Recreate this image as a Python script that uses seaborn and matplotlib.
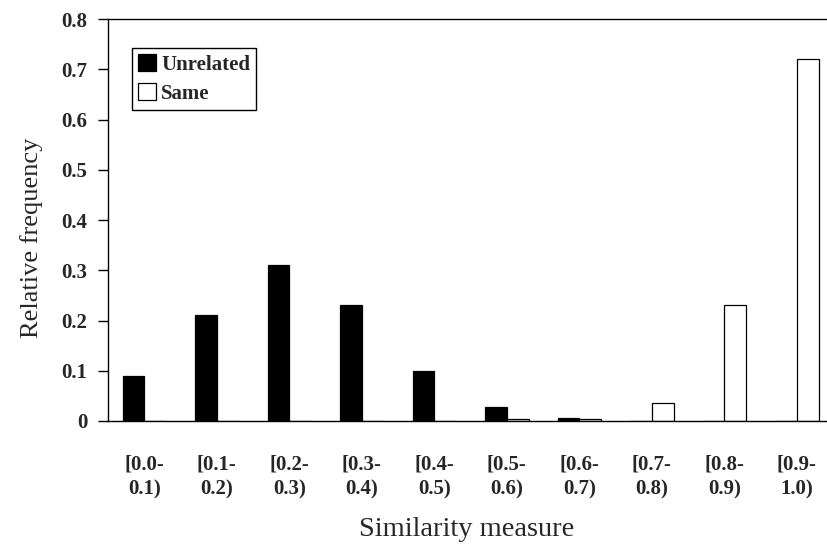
import matplotlib
matplotlib.use("Agg")
import matplotlib.pyplot as plt
import matplotlib.ticker as mtick
import seaborn as sns
import pandas as pd

bins = ["[0.0-\n0.1)", "[0.1-\n0.2)", "[0.2-\n0.3)", "[0.3-\n0.4)", "[0.4-\n0.5)",
        "[0.5-\n0.6)", "[0.6-\n0.7)", "[0.7-\n0.8)", "[0.8-\n0.9)", "[0.9-\n1.0)"]
unrelated = [0.09, 0.21, 0.31, 0.23, 0.10, 0.028, 0.005, 0.0, 0.0, 0.0]
same = [0.0, 0.0, 0.0, 0.0, 0.0, 0.003, 0.003, 0.035, 0.23, 0.72]
yticks = [0, 0.1, 0.2, 0.3, 0.4, 0.5, 0.6, 0.7, 0.8]

df = pd.DataFrame({
    "bin": bins * 2,
    "freq": unrelated + same,
    "group": ["Unrelated"] * len(bins) + ["Same"] * len(bins),
})

sns.set_style("white")
plt.rcParams["font.family"] = ["Liberation Serif", "DejaVu Serif"]

fig = plt.figure(figsize=(8.27, 5.46), dpi=100)
ax = fig.add_axes([0.1306, 0.229, 0.8767, 0.736])

sns.barplot(data=df, x="bin", y="freq", hue="group", order=bins,
            hue_order=["Unrelated", "Same"],
            palette={"Unrelated": "black", "Same": "white"},
            edgecolor="black", linewidth=0.9, width=0.6, gap=0,
            ax=ax)

ax.set_xlim(-0.5, 9.5)
ax.set_ylim(0, 0.8)
ax.set_yticks(yticks)
ax.yaxis.set_major_formatter(mtick.FuncFormatter(lambda v, p: "0" if v == 0 else f"{v:.1f}"))

# category boundary ticks on x axis
ax.set_xticks([i - 0.5 for i in range(11)], minor=True)
ax.tick_params(axis="x", which="major", length=0, pad=24, labelsize=15)
ax.tick_params(axis="x", which="minor", length=8, width=1, direction="out", color="black")
ax.tick_params(axis="y", length=7, width=1, direction="out", color="black", labelsize=15, pad=8)
ax.tick_params(left=True, bottom=True)
for lab in ax.get_xticklabels() + ax.get_yticklabels():
    lab.set_fontweight("bold")
    lab.set_linespacing(1.35)

for s in ["left", "bottom", "top"]:
    ax.spines[s].set_visible(True)
    ax.spines[s].set_color("black")
    ax.spines[s].set_linewidth(1)
ax.spines["right"].set_visible(False)

ax.set_xlabel("Similarity measure", fontsize=20.5)
ax.set_ylabel("Relative frequency", fontsize=19, labelpad=13)
ax.xaxis.set_label_coords(0.494, -0.24)
ax.yaxis.label.set_y(0.455)

leg = ax.legend(loc="upper left", bbox_to_anchor=(0.033, 0.928), frameon=True,
                fancybox=False, edgecolor="black", framealpha=1,
                prop={"weight": "bold", "size": 15},
                handlelength=0.85, handleheight=0.85, handletextpad=0.25,
                borderpad=0.3, labelspacing=0.4, borderaxespad=0)
leg.get_frame().set_linewidth(1)

plt.savefig("out.png", dpi=100)
